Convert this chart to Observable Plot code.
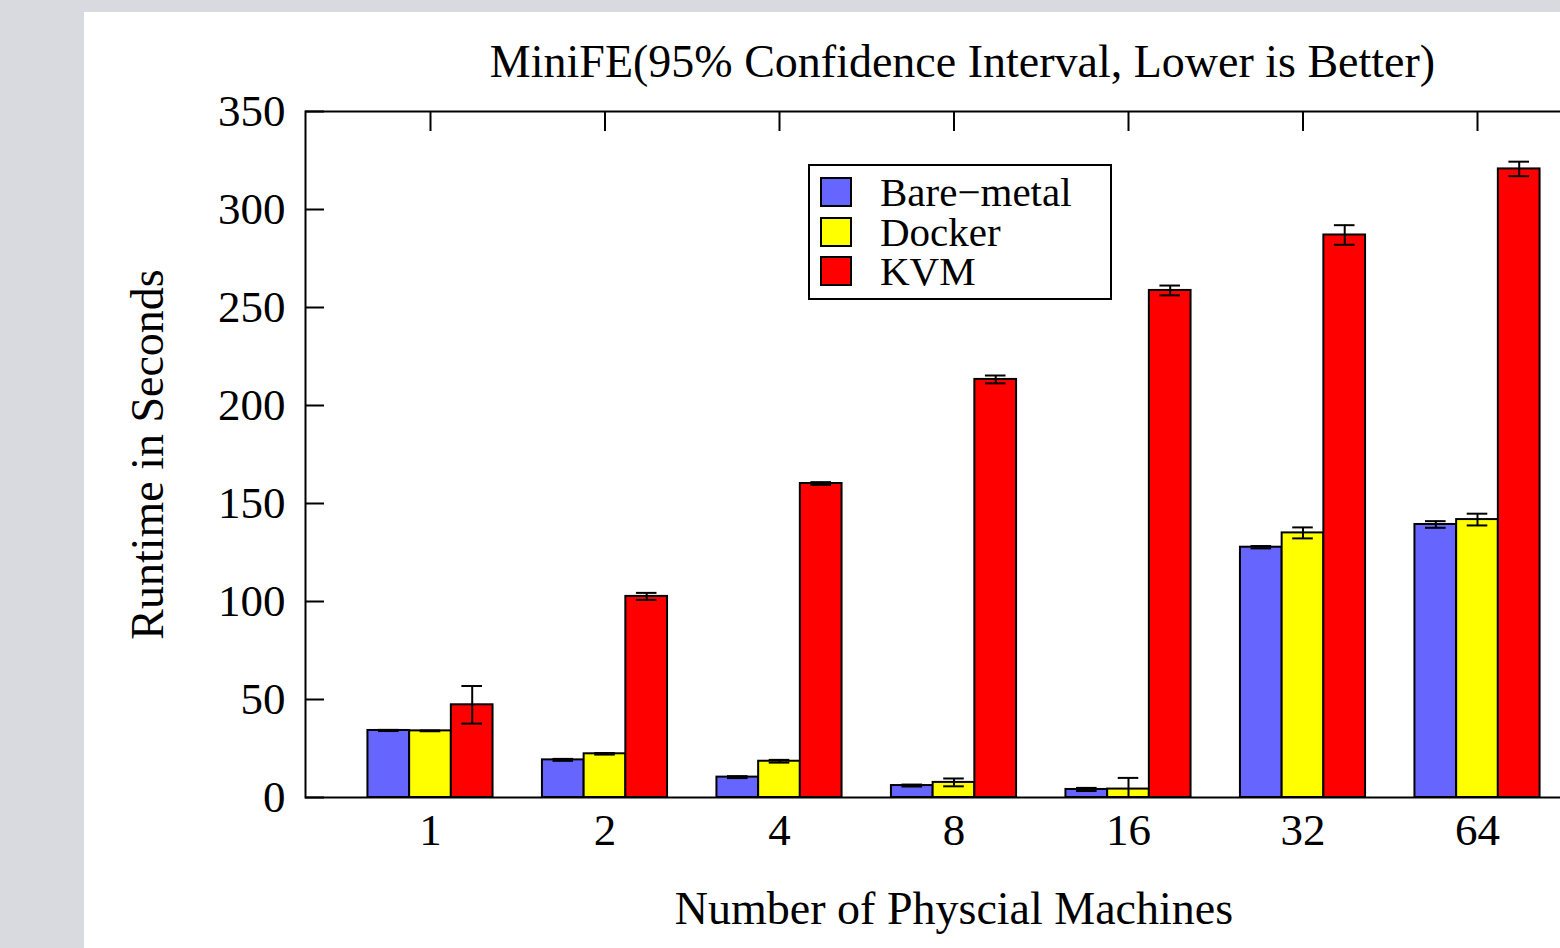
<!DOCTYPE html>
<html><head><meta charset="utf-8">
<script src="https://cdn.jsdelivr.net/npm/d3@7"></script>
<script src="https://cdn.jsdelivr.net/npm/@observablehq/plot@0.6"></script>
<style>
html,body{margin:0;padding:0;background:#d9dadf;width:1560px;height:948px;overflow:hidden;}
#panel{position:absolute;left:84px;top:12px;width:1476px;height:936px;background:#fff;overflow:hidden;}
#legend{position:absolute;left:808px;top:164px;width:304px;height:136px;box-sizing:border-box;border:2px solid #000;background:#fff;font-family:"Liberation Serif",serif;font-size:41px;color:#000;}
.row{position:absolute;left:10px;height:30px;display:flex;align-items:center;}
.sw{width:32px;height:30px;box-sizing:border-box;border:2px solid #000;margin-right:28px;flex:none;}
.lab{display:block;height:30px;line-height:30px;white-space:nowrap;}
</style></head><body>
<div id="panel"></div>
<div id="legend"></div>
<script>
// ---- data ----
const categories = ["1", "2", "4", "8", "16", "32", "64"];
const series = ["Bare-metal", "Docker", "KVM"];
const seriesLabels = ["Bare\u2212metal", "Docker", "KVM"];
const colors = ["#6666ff", "#ffff00", "#ff0000"];
const bareMetal = [34.2, 19.2, 10.4, 6.1, 4.1, 127.7, 139.3];
const docker    = [34.0, 22.3, 18.5, 7.7, 4.3, 135.0, 141.8];
const kvm       = [47.3, 102.6, 160.2, 213.3, 258.7, 287.0, 320.7];
const bareMetalErr = [0.3, 0.5, 0.5, 0.5, 0.8, 0.6, 1.7];
const dockerErr    = [0.2, 0.4, 0.7, 2.0, 5.7, 2.8, 3.0];
const kvmErr       = [9.6, 1.8, 0.7, 2.0, 2.5, 5.0, 3.7];
const yTicks = [0, 50, 100, 150, 200, 250, 300, 350];
const title = "MiniFE(95% Confidence Interval, Lower is Better)";
const xLabel = "Number of Physcial Machines";
const yLabel = "Runtime in Seconds";

const values = [bareMetal, docker, kvm];
const errors = [bareMetalErr, dockerErr, kvmErr];
const rows = [];
categories.forEach((c, ci) => series.forEach((s, si) => {
  const v = values[si][ci], e = errors[si][ci];
  rows.push({c, ci, s, si, v, e, lo: Math.max(0, v - e), hi: v + e});
}));

const BW = 0.239;   // bar width in cluster units
const CAP = 0.059;  // half width of error caps
const center = d => d.ci + (d.si - 1) * BW;

const chart = Plot.plot({
  width: 1548, height: 936,
  marginLeft: 221, marginRight: 30, marginTop: 99, marginBottom: 151,
  style: {fontFamily: '"Liberation Serif", serif', fontSize: "45px", maxWidth: "none", background: "transparent", color: "#000"},
  x: {domain: [-0.7163, categories.length - 1 + 0.7163], axis: null},
  y: {domain: [0, 350], axis: null},
  color: {domain: series, range: colors},
  marks: [
    Plot.rectY(rows, {x1: d => d.ci + (d.si - 1.5) * BW, x2: d => d.ci + (d.si - 0.5) * BW, y1: 0, y2: "v", fill: "s", stroke: "#000", strokeWidth: 2}),
    Plot.ruleX(rows, {x: center, y1: "lo", y2: "hi", stroke: "#000", strokeWidth: 2}),
    Plot.ruleY(rows, {y: "hi", x1: d => center(d) - CAP, x2: d => center(d) + CAP, stroke: "#000", strokeWidth: 2}),
    Plot.ruleY(rows.filter(d => d.v - d.e > 0), {y: "lo", x1: d => center(d) - CAP, x2: d => center(d) + CAP, stroke: "#000", strokeWidth: 2}),
    Plot.axisY({ticks: yTicks, tickSize: 0, tickPadding: 20, tickFormat: d => String(d), fontSize: 45}),
    Plot.axisY({ticks: yTicks, tickSize: 19, dx: 19, tickFormat: () => "", strokeWidth: 2}),
    Plot.axisX({anchor: "bottom", ticks: d3.range(categories.length), tickSize: 0, tickPadding: 16, tickFormat: i => categories[i], fontSize: 45}),
    Plot.axisX({anchor: "top", ticks: d3.range(categories.length), tickSize: 19, dy: 19, tickFormat: () => "", strokeWidth: 2}),
    Plot.frame({stroke: "#000", strokeWidth: 2}),
    Plot.text([title], {frameAnchor: "top", textAnchor: "middle", lineAnchor: "middle", dx: 8.5, dy: -49.7, fontSize: 46}),
    Plot.text([xLabel], {frameAnchor: "bottom", textAnchor: "middle", lineAnchor: "middle", dy: 112, fontSize: 46}),
    Plot.text([yLabel], {frameAnchor: "left", textAnchor: "middle", lineAnchor: "middle", rotate: -90, dx: -157.7, fontSize: 46})
  ]
});
document.getElementById("panel").appendChild(chart);

// legend
const legend = document.getElementById("legend");
const rowTops = [11, 50.5, 90];
series.forEach((s, i) => {
  const r = document.createElement("div");
  r.className = "row";
  r.style.top = rowTops[i] + "px";
  const sw = document.createElement("div");
  sw.className = "sw";
  sw.style.background = colors[i];
  const lab = document.createElement("div");
  lab.className = "lab";
  lab.textContent = seriesLabels[i];
  r.appendChild(sw); r.appendChild(lab);
  legend.appendChild(r);
});
</script>
</body></html>
